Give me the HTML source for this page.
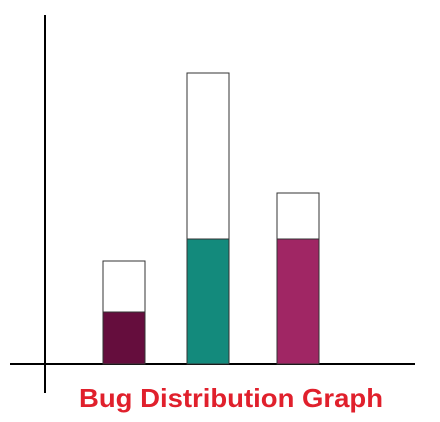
<!DOCTYPE html>
<html><head><meta charset="utf-8"><style>body{margin:0;background:#fff}svg{display:block}</style></head>
<body>
<svg id="chart" width="440" height="422" viewBox="0 0 440 422" xmlns="http://www.w3.org/2000/svg">
<line x1="45" y1="15" x2="45" y2="393" stroke="#000" stroke-width="2"/>
<line x1="10" y1="364" x2="415" y2="364" stroke="#000" stroke-width="2"/>
<g id="bars"></g>
<text x="231" y="407" text-anchor="middle" font-family="Liberation Sans, sans-serif" font-weight="bold" font-size="26" fill="#e0202c" textLength="304" lengthAdjust="spacingAndGlyphs">Bug Distribution Graph</text>
</svg>
<script>
const categories = ['a','b','c'];
const totals = [103, 291, 171];
const filled = [52, 125, 125];
const colors = ['#650d3d','#138a7c','#a02664'];
const baseY = 364, xs = [103,187,277], bw = 42;
function y(v){return baseY - v;}
const g = document.getElementById('bars');
const ns = 'http://www.w3.org/2000/svg';
categories.forEach((c,i)=>{
  const o = document.createElementNS(ns,'rect');
  
  
  o.setAttribute('x',xs[i]);o.setAttribute('y',y(totals[i]));
  o.setAttribute('width',bw);o.setAttribute('height',totals[i]);
  o.setAttribute('fill','#fff');o.setAttribute('stroke','#333');o.setAttribute('stroke-width','1');
  g.appendChild(o);
  const f = document.createElementNS(ns,'rect');
  
  
  f.setAttribute('x',xs[i]);f.setAttribute('y',y(filled[i]));
  f.setAttribute('width',bw);f.setAttribute('height',filled[i]);
  f.setAttribute('fill',colors[i]);f.setAttribute('stroke','#333');f.setAttribute('stroke-width','1');
  g.appendChild(f);
});
</script>
</body></html>
